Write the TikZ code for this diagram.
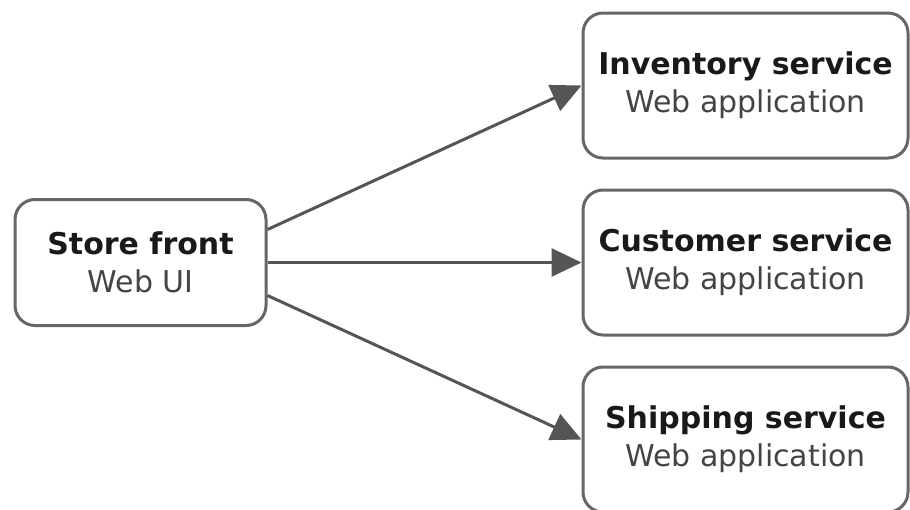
\documentclass[tikz,border=0pt]{standalone}
\usepackage{fontspec}
\setmainfont{DejaVu Sans}
\usetikzlibrary{arrows.meta}

\definecolor{boxline}{HTML}{666666}
\definecolor{arrowline}{HTML}{555555}
\definecolor{subtext}{HTML}{444444}

\tikzset{
	svcbox/.style={draw=boxline, line width=3pt, rounded corners=20pt, fill=white,
		minimum width=325pt, minimum height=145pt, align=center, text=subtext,
		font=\fontsize{30}{38}\selectfont},
	uibox/.style={svcbox, minimum width=251pt, minimum height=126pt},
	callarrow/.style={draw=arrowline, line width=3pt, -{Triangle[length=30pt,width=28pt]}}
}
\newcommand{\boxtitle}[1]{{\bfseries\color{black!90}#1}}

\begin{document}
\begin{tikzpicture}[x=1pt, y=1pt]
		%%%%% START %%%%%
		
		\useasboundingbox (0, 0) rectangle (910, -509);
		\clip (0, 0) rectangle (910, -509);
		
		\node[uibox] (store) at (140.5, -262.5) {\boxtitle{Store front}\\Web UI};
		
		\node[svcbox] (inventory) at (745.5, -85.5) {\boxtitle{Inventory service}\\Web application};
		\node[svcbox] (customer) at (745.5, -262.5) {\boxtitle{Customer service}\\Web application};
		\node[svcbox] (shipping) at (745.5, -439.5) {\boxtitle{Shipping service}\\Web application};
		
		\draw[callarrow] ([yshift=33pt]store.east) -- (inventory.west);
		\draw[callarrow] (store.east) -- (customer.west);
		\draw[callarrow] ([yshift=-33pt]store.east) -- (shipping.west);
		
		%%%%% END %%%%%
	\end{tikzpicture}
\end{document}
